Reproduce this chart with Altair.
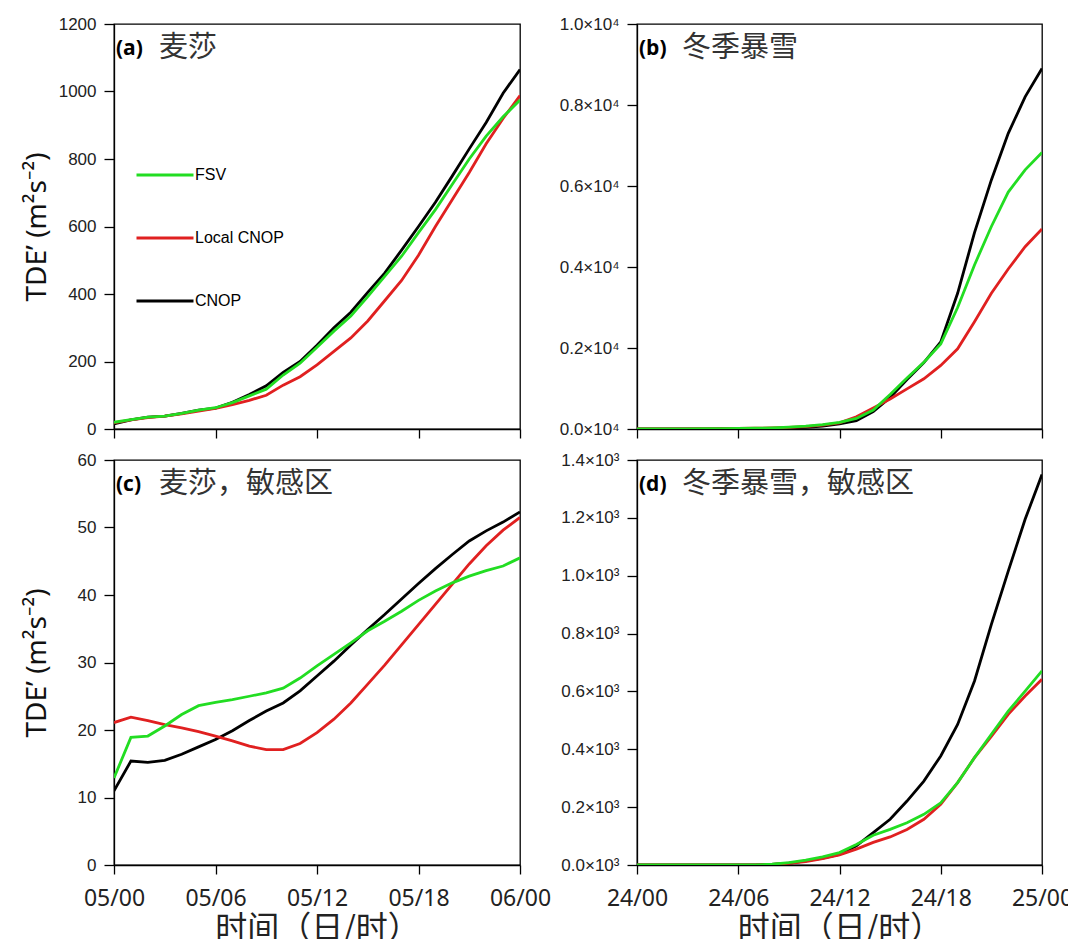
import altair as alt
import pandas as pd

# ---------------- data ----------------
hours = list(range(25))
series_names = ["FSV", "Local CNOP", "CNOP"]
series_colors = ["#22dd22", "#e02020", "#000000"]
draw_order = ["CNOP", "Local CNOP", "FSV"]

# (a) 麦莎
a_fsv = [20, 28, 35, 38, 46, 56, 63, 78, 98, 118, 160, 195, 242, 290, 335, 392, 452, 512, 582, 650, 725, 800, 868, 925, 975]
a_local = [18, 27, 34, 38, 45, 53, 61, 72, 85, 100, 130, 155, 190, 230, 270, 320, 380, 440, 515, 600, 680, 760, 845, 920, 988]
a_cnop = [15, 27, 35, 38, 46, 56, 62, 79, 102, 128, 168, 200, 248, 300, 346, 405, 462, 530, 600, 672, 750, 830, 908, 995, 1065]

# (b) 冬季暴雪
b_fsv = [5, 5, 5, 5, 6, 8, 12, 18, 28, 45, 70, 110, 165, 260, 470, 850, 1260, 1650, 2100, 3000, 4050, 5000, 5850, 6400, 6830]
b_local = [5, 5, 5, 5, 6, 8, 12, 18, 26, 40, 60, 95, 150, 300, 520, 740, 990, 1240, 1570, 1980, 2650, 3350, 3950, 4500, 4940]
b_cnop = [5, 5, 5, 5, 5, 6, 8, 10, 14, 22, 40, 70, 125, 205, 430, 780, 1220, 1640, 2150, 3350, 4850, 6150, 7300, 8200, 8900]

# (c) 麦莎，敏感区
c_fsv = [12.9, 18.9, 19.1, 20.6, 22.3, 23.6, 24.1, 24.5, 25.0, 25.5, 26.2, 27.7, 29.5, 31.2, 32.9, 34.7, 36.1, 37.6, 39.2, 40.6, 41.8, 42.8, 43.6, 44.3, 45.5]
c_local = [21.1, 21.9, 21.4, 20.8, 20.3, 19.75, 19.1, 18.4, 17.6, 17.1, 17.1, 18.0, 19.6, 21.6, 24.0, 26.8, 29.6, 32.6, 35.6, 38.6, 41.6, 44.6, 47.3, 49.6, 51.5]
c_cnop = [11.0, 15.4, 15.2, 15.5, 16.4, 17.5, 18.6, 19.9, 21.4, 22.8, 24.0, 25.8, 28.0, 30.2, 32.6, 34.9, 37.1, 39.4, 41.7, 43.9, 46.0, 48.0, 49.5, 50.8, 52.3]

# (d) 冬季暴雪，敏感区
d_fsv = [0, 0, 0, 0, 0, 0, 0, 0, 3, 8, 17, 28, 43, 71, 103, 123, 146, 175, 215, 285, 371, 452, 532, 601, 671]
d_local = [0, 0, 0, 0, 0, 0, 0, 0, 2, 6, 12, 22, 35, 55, 78, 97, 123, 158, 210, 285, 371, 445, 521, 584, 642]
d_cnop = [0, 0, 0, 0, 0, 0, 0, 0, 2, 6, 14, 24, 37, 66, 112, 158, 221, 290, 377, 486, 636, 832, 1016, 1195, 1350]

x_tick_hours = [0, 6, 12, 18, 24]
x_labels_05 = ["05/00", "05/06", "05/12", "05/18", "06/00"]
x_labels_24 = ["24/00", "24/06", "24/12", "24/18", "25/00"]

ya_ticks = [0, 200, 400, 600, 800, 1000, 1200]
yb_ticks = [0, 2000, 4000, 6000, 8000, 10000]
yc_ticks = [0, 10, 20, 30, 40, 50, 60]
yd_ticks = [0, 200, 400, 600, 800, 1000, 1200, 1400]

y_title = "TDE\u2019 (m\u00b2s\u207b\u00b2)"
x_title = "时间（日/时）"


def x_label_expr(labels):
    arr = "[" + ",".join("'%s'" % s for s in labels) + "]"
    idx = "[" + ",".join(str(h) for h in x_tick_hours) + "]"
    return arr + "[indexof(" + idx + ", datum.value)]"


def make_panel(fsv, local, cnop, y_max, y_ticks, y_expr, x_labels, show_x,
               show_ytitle, tag, name, width, legend):
    df = pd.DataFrame({
        "hour": hours * 3,
        "value": fsv + local + cnop,
        "series": ["FSV"] * 25 + ["Local CNOP"] * 25 + ["CNOP"] * 25,
    })
    x_axis_kw = dict(values=x_tick_hours, labels=show_x, tickSize=9,
                     labelFont="Noto Sans", labelFontSize=23, labelPadding=13,
                     labelColor="#222222", labelFlush=False, labelOverlap=False,
                     titleFont="Noto Sans CJK SC", titleFontSize=32,
                     titleFontWeight="normal", titlePadding=3, titleColor="#222222")
    if show_x:
        x_axis_kw["labelExpr"] = x_label_expr(x_labels)
    y_axis_kw = dict(values=y_ticks, labelFont="Liberation Sans", labelFontSize=17,
                     labelPadding=8, labelColor="#222222", tickSize=10,
                     labelFlush=False, labelOverlap=False,
                     titleFont="Noto Sans", titleFontSize=28, titleFontWeight="normal",
                     titlePadding=3, titleColor="#111111", minExtent=60, maxExtent=60)
    if y_expr:
        y_axis_kw["labelExpr"] = y_expr
    else:
        y_axis_kw["format"] = "d"

    x_enc = alt.X("hour:Q", scale=alt.Scale(domain=[0, 24], nice=False, zero=False),
                  axis=alt.Axis(**x_axis_kw), title=x_title if show_x else None)
    y_enc = alt.Y("value:Q", scale=alt.Scale(domain=[0, y_max], nice=False),
                  axis=alt.Axis(**y_axis_kw), title=y_title if show_ytitle else None)
    color_kw = dict(scale=alt.Scale(domain=series_names, range=series_colors))
    if legend is None:
        color_kw["legend"] = None
    else:
        color_kw["legend"] = legend

    base = alt.Chart(df)
    layers = []
    for s in draw_order:
        layers.append(
            base.transform_filter(alt.datum.series == s)
            .mark_line(strokeWidth=2.8, clip=True)
            .encode(x=x_enc, y=y_enc, color=alt.Color("series:N", **color_kw))
        )
    tag_text = alt.Chart(pd.DataFrame({"t": [tag]})).mark_text(
        align="left", baseline="alphabetic", font="Open Sans", fontWeight="bold",
        fontSize=21, color="black"
    ).encode(x=alt.value(2), y=alt.value(31), text="t:N")
    name_text = alt.Chart(pd.DataFrame({"t": [name]})).mark_text(
        align="left", baseline="alphabetic", font="Noto Sans CJK SC",
        fontSize=29, color="#333333"
    ).encode(x=alt.value(45), y=alt.value(33), text="t:N")
    return alt.layer(*layers, tag_text, name_text).properties(width=width, height=405)


legend_a = alt.Legend(orient="none", legendX=21, legendY=121, title=None,
                      symbolType="stroke", symbolSize=3249, symbolStrokeWidth=3,
                      labelFont="Liberation Sans", labelFontSize=16, labelColor="black",
                      labelOffset=0, rowPadding=25, padding=0)

pa = make_panel(a_fsv, a_local, a_cnop, 1200, ya_ticks, None, x_labels_05, False,
                True, "(a)", "麦莎", 406, legend_a)
pb = make_panel(b_fsv, b_local, b_cnop, 10000, yb_ticks,
                "format(datum.value / 10000, '.1f') + '\u00d710\u2074'",
                x_labels_24, False, False, "(b)", "冬季暴雪", 405, None)
pc = make_panel(c_fsv, c_local, c_cnop, 60, yc_ticks, None, x_labels_05, True,
                True, "(c)", "麦莎，敏感区", 406, None)
pd_ = make_panel(d_fsv, d_local, d_cnop, 1400, yd_ticks,
                 "format(datum.value / 1000, '.1f') + '\u00d710\u00b3'",
                 x_labels_24, True, False, "(d)", "冬季暴雪，敏感区", 405, None)

chart = (
    alt.concat(pa, pb, pc, pd_, columns=2, spacing={"row": 31, "column": 117},
               bounds="flush")
    .resolve_scale(color="independent")
    .properties(padding={"left": 22, "top": 14, "right": -6, "bottom": -6}, background="white")
    .configure_view(stroke="black", strokeWidth=1.3)
    .configure_axis(domainColor="black", domainWidth=1.3, tickColor="black",
                    tickWidth=1.3, grid=False)
)

chart.save("out.html", embed_options={"renderer": "svg", "actions": False})
